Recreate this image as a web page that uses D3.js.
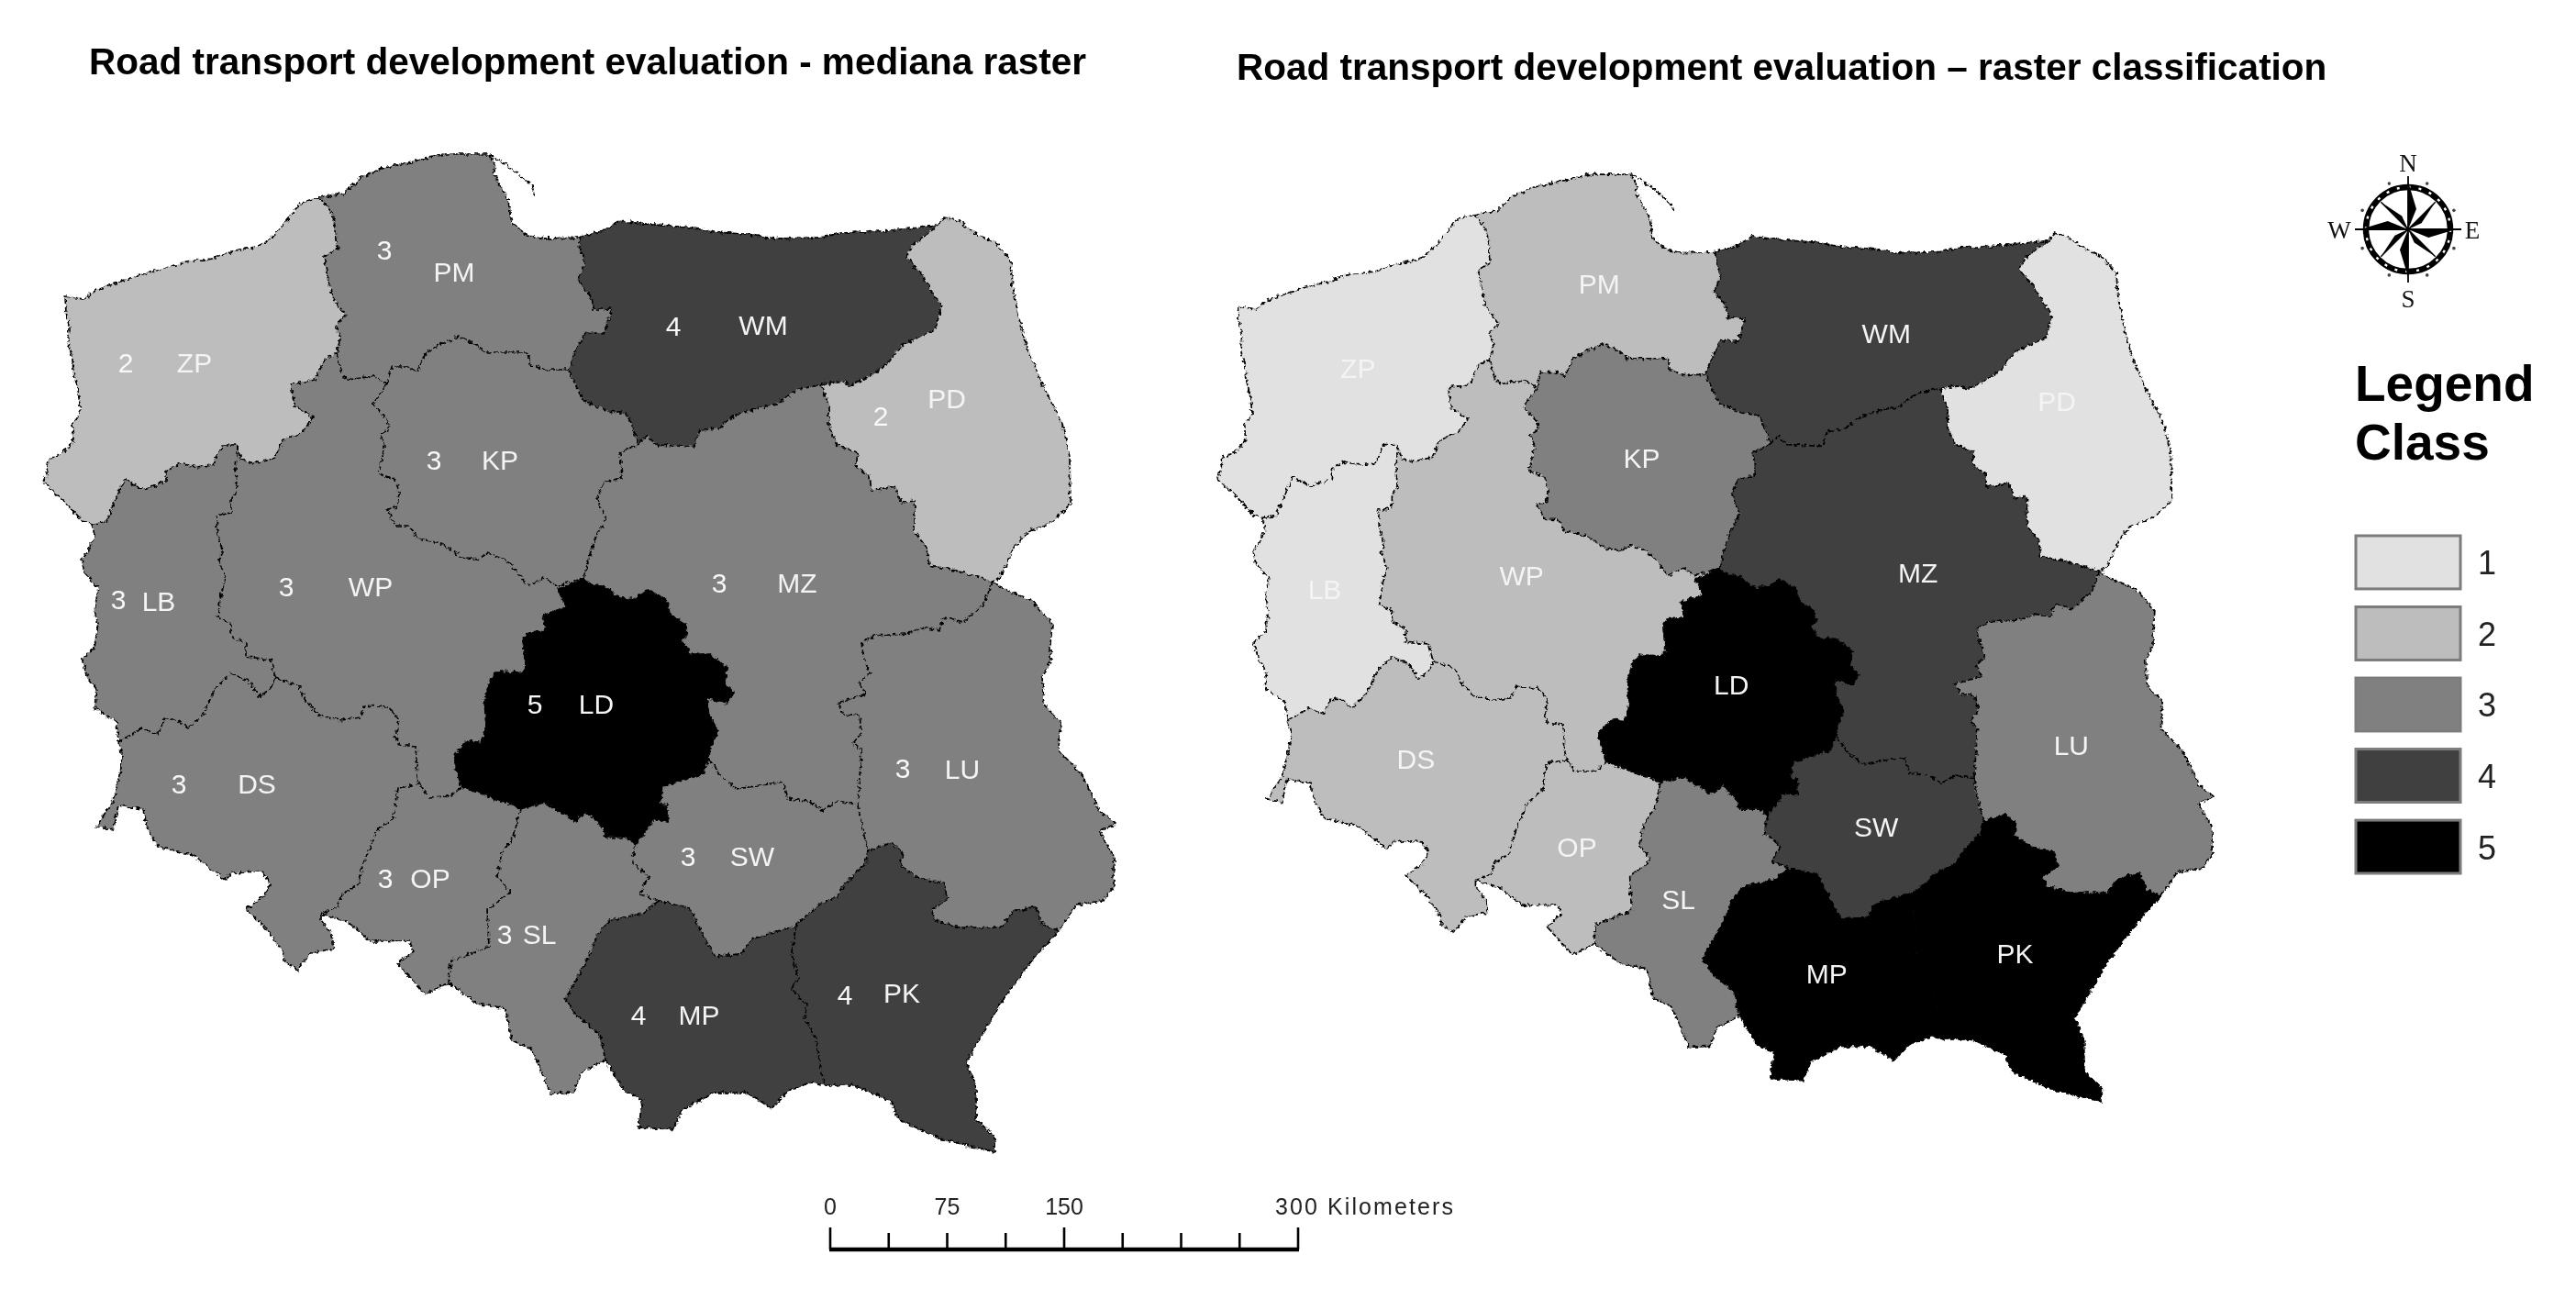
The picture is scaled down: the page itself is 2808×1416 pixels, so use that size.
<!DOCTYPE html>
<html><head><meta charset="utf-8">
<script src="https://cdn.jsdelivr.net/npm/d3@7"></script>
<style>html,body{margin:0;padding:0;background:#fff}svg{display:block;filter:blur(0.6px)}text{font-family:"Liberation Sans",Arial,sans-serif}</style>
</head><body><svg id="c" width="2808" height="1416"></svg>
<script>
// ---------- border arcs (map units) ----------
const coastZP=[[348,215],[328,221],[315,237],[304,251],[290,264],[279,269],[257,273],[232,282],[203,285],[179,293],[152,300],[125,309],[105,316],[92,326],[71,323],[72,341],[76,359],[74,373],[79,391],[80,405],[85,426],[88,448],[79,462],[80,482],[67,494],[53,501],[51,516],[47,525],[60,537],[74,551],[89,568],[100,571]];
const lbZP=[[100,571],[116,569],[123,551],[129,537],[136,523],[156,534],[181,525],[181,514],[196,505],[214,509],[232,507],[243,485],[259,485]];
const zpWP=[[259,485],[263,501],[277,505],[299,500],[308,480],[330,471],[341,455],[321,442],[317,419],[344,414],[353,392],[367,385]];
const zpPM=[[348,215],[362,232],[366,251],[368,271],[353,280],[357,301],[362,323],[377,344],[366,355],[371,366],[367,385]];
const coastPM=[[348,215],[375,211],[393,194],[415,184],[451,176],[484,168],[533,168],[540,182],[538,189],[554,219],[558,244],[576,257],[594,260],[631,259]];
const hel=[[533,168],[558,184],[580,203],[583,214]];
const pmWM=[[631,259],[633,273],[638,287],[630,305],[645,325],[647,337],[667,337],[658,364],[638,362],[627,384],[620,403]];
const pmWP=[[367,385],[373,409],[379,414],[408,410],[422,419]];
const kpPM=[[422,419],[426,400],[446,400],[455,405],[464,385],[478,376],[500,367],[520,376],[527,384],[554,384],[576,384],[578,398],[594,403],[620,403]];
const wpKP=[[422,419],[406,441],[422,457],[424,468],[415,473],[419,487],[413,516],[431,523],[435,537],[433,553],[422,555],[431,573],[446,573],[455,587],[480,592],[502,607],[520,610],[531,603],[551,610],[562,621],[576,639],[594,630],[607,639],[636,630]];
const kpMZ=[[636,630],[647,591],[660,566],[651,544],[658,525],[678,521],[676,494],[696,484]];
const kpWM=[[696,484],[683,451],[663,448],[636,437],[627,419],[620,403]];
const wmCoast=[[631,259],[658,251],[674,241],[712,245],[752,248],[779,253],[810,255],[846,260],[895,259],[917,254],[962,252],[993,249],[1022,246]];
const wmMZ=[[696,484],[705,475],[716,485],[756,487],[763,469],[783,467],[801,453],[828,444],[846,441],[868,425],[895,419]];
const wmPD=[[895,419],[921,416],[926,421],[944,412],[966,398],[984,376],[1020,359],[1026,334],[1004,298],[988,280],[995,267],[1022,246]];
const pdEast=[[1022,246],[1029,237],[1046,241],[1060,253],[1084,264],[1102,284],[1104,312],[1111,348],[1120,380],[1136,419],[1158,462],[1166,498],[1167,550],[1147,569],[1120,580],[1107,594],[1090,630],[1082,634]];
const pdMZ=[[895,419],[904,444],[904,466],[913,485],[935,494],[933,509],[948,519],[950,535],[975,530],[982,548],[997,546],[997,580],[1011,598],[1013,616],[1046,623],[1082,634]];
const mzLU=[[1082,634],[1073,657],[1060,669],[1051,678],[1029,673],[1024,687],[1006,684],[988,691],[953,693],[939,701],[942,718],[948,734],[937,745],[944,757],[913,766],[919,778],[937,780],[939,799],[930,810],[939,818],[935,877]];
const mzSW=[[773,827],[785,845],[803,860],[854,852],[859,871],[881,873],[897,883],[913,873],[935,877]];
const ldMZ=[[636,630],[643,637],[660,640],[677,653],[693,652],[707,643],[727,655],[730,670],[747,680],[750,692],[743,698],[753,713],[773,713],[792,727],[790,745],[800,755],[792,767],[770,760],[773,780],[783,797],[775,813],[773,827]];
const ldSW=[[773,827],[767,843],[747,850],[723,857],[720,877],[728,877],[728,897],[713,893],[703,907],[693,920]];
const ldSL=[[693,920],[683,913],[660,913],[657,903],[640,885],[627,895],[607,883],[593,875],[567,882]];
const ldOP=[[567,882],[557,877],[543,873],[530,867],[503,858]];
const ldWP=[[503,858],[497,837],[495,823],[510,807],[525,810],[530,793],[528,763],[535,740],[542,732],[568,733],[573,727],[570,697],[575,690],[595,688],[592,670],[617,662],[608,642],[620,638],[636,630]];
const wpOP=[[458,855],[467,869],[491,868],[503,858]];
const dsWP=[[300,739],[326,748],[333,764],[348,780],[371,785],[393,782],[397,769],[424,771],[435,785],[431,803],[435,812],[453,814],[455,848],[458,855]];
const dsOP=[[458,855],[433,859],[429,891],[411,905],[395,944],[391,964],[373,975],[368,989],[350,996]];
const opSL=[[567,882],[560,912],[547,930],[542,955],[556,973],[531,991],[533,1032],[491,1048],[489,1071]];
const opSouth=[[350,996],[379,1005],[404,1026],[446,1025],[451,1037],[433,1050],[464,1084],[489,1071]];
const dsSouth=[[129,809],[134,826],[127,859],[121,878],[105,901],[123,905],[129,878],[156,882],[161,903],[172,923],[210,932],[228,946],[246,959],[254,951],[286,950],[295,964],[286,978],[268,991],[290,1012],[308,1037],[310,1048],[324,1057],[339,1039],[364,1034],[362,1019],[350,1003],[350,996]];
const lbWest=[[100,571],[103,584],[98,598],[89,609],[92,625],[107,641],[103,666],[107,680],[103,705],[89,718],[96,739],[105,751],[103,771],[127,787],[129,809]];
const lbDS=[[129,809],[154,794],[172,801],[179,784],[192,784],[205,794],[223,776],[234,751],[252,734],[272,743],[283,760],[295,750],[300,739]];
const lbWP=[[259,485],[257,509],[258,534],[252,544],[252,559],[236,562],[237,584],[243,601],[239,612],[246,630],[241,648],[237,673],[252,680],[252,694],[268,701],[268,716],[295,719],[300,739]];
const slSouth=[[489,1071],[520,1094],[551,1100],[558,1134],[580,1144],[600,1192],[625,1191],[634,1169],[660,1155]];
const slMP=[[718,982],[700,996],[665,1003],[651,1019],[645,1036],[631,1063],[616,1089],[627,1105],[654,1128],[660,1155]];
const slSW=[[693,920],[689,940],[707,956],[698,975],[718,982]];
const swMP=[[868,1009],[841,1017],[819,1024],[808,1040],[779,1042],[767,1021],[752,990],[718,982]];
const swPK=[[946,927],[944,940],[921,963],[913,977],[890,988],[868,1009]];
const swLU=[[935,877],[939,898],[946,927]];
const luPK=[[1154,1015],[1136,1007],[1129,988],[1104,994],[1091,1011],[1046,1011],[1020,1003],[1015,992],[1033,980],[1029,963],[1002,957],[982,944],[984,929],[971,919],[946,927]];
const luEast=[[1082,634],[1090,640],[1125,655],[1147,680],[1145,703],[1145,722],[1136,737],[1138,768],[1156,787],[1154,818],[1180,845],[1198,883],[1216,898],[1198,906],[1214,933],[1214,967],[1203,982],[1174,986],[1154,1015]];
const mpSouth=[[660,1155],[680,1189],[700,1199],[696,1229],[734,1231],[743,1210],[779,1191],[814,1191],[841,1208],[859,1189],[886,1179],[899,1183]];
const mpPK=[[868,1009],[863,1036],[870,1067],[863,1078],[879,1095],[877,1112],[890,1132],[892,1155],[899,1183]];
const pkSouth=[[899,1183],[930,1183],[971,1200],[979,1220],[1024,1241],[1060,1250],[1084,1256],[1084,1239],[1064,1220],[1064,1185],[1053,1158],[1091,1093],[1127,1044],[1154,1015]];
const allArcs=[coastZP,lbZP,zpWP,zpPM,coastPM,hel,pmWM,pmWP,kpPM,wpKP,kpMZ,kpWM,wmCoast,wmMZ,wmPD,pdEast,pdMZ,mzLU,mzSW,ldMZ,ldSW,ldSL,ldOP,ldWP,wpOP,dsWP,dsOP,opSL,opSouth,dsSouth,lbWest,lbDS,lbWP,slSouth,slMP,slSW,swMP,swPK,swLU,luPK,luEast,mpSouth,mpPK,pkSouth];
const rev=a=>a.slice().reverse();
// ---------- regions ----------
const regionCodes=["ZP","PM","WM","PD","KP","WP","LB","MZ","LD","DS","OP","SL","SW","LU","MP","PK"];
const regionRings=[
 [coastZP,lbZP,zpWP,rev(zpPM)],
 [coastPM,pmWM,rev(kpPM),rev(pmWP),rev(zpPM)],
 [wmCoast,rev(wmPD),rev(wmMZ),kpWM,rev(pmWM)],
 [wmPD,pdEast,rev(pdMZ)],
 [kpPM,rev(kpWM),rev(kpMZ),rev(wpKP)],
 [zpWP,pmWP,wpKP,rev(ldWP),rev(wpOP),rev(dsWP),rev(lbWP)],
 [rev(lbZP),lbWest,lbDS,rev(lbWP)],
 [kpMZ,wmMZ,pdMZ,mzLU,rev(mzSW),rev(ldMZ)],
 [ldMZ,ldSW,ldSL,ldOP,ldWP],
 [lbDS,dsWP,dsOP,rev(dsSouth)],
 [wpOP,rev(ldOP),opSL,rev(opSouth),rev(dsOP)],
 [rev(ldSL),slSW,slMP,rev(slSouth),rev(opSL)],
 [mzSW,swLU,swPK,swMP,rev(slSW),rev(ldSW)],
 [rev(mzLU),luEast,luPK,rev(swLU)],
 [rev(swMP),mpPK,rev(mpSouth),rev(slMP)],
 [rev(swPK),rev(luPK),rev(pkSouth),rev(mpPK)]
];
const classMediana=[2,3,4,2,3,3,3,3,5,3,3,3,3,3,4,4];
const classRaster =[1,2,4,1,3,2,1,4,5,2,2,3,4,3,5,5];
const codeX=[212,495,832,1032,545,404,173,869,650,280,469,588,820,1049,762,983];
const codeY=[395,296,354,434,501,639,655,635,767,854,957,1018,933,838,1106,1082];
const valueX=[137,419,734,960,473,312,129,784,583,195,420,550,750,984,696,921];
const valueY=[395,272,355,453,501,639,653,635,767,854,957,1018,933,837,1106,1084];
// ---------- legend, scale bar, compass ----------
const classes=[1,2,3,4,5];
const classColors=["#e1e1e1","#bdbdbd","#808080","#404040","#000000"];
const titleLeft="Road transport development evaluation - mediana raster";
const titleRight="Road transport development evaluation \u2013 raster classification";
const scaleTicks=[0,37.5,75,112.5,150,187.5,225,262.5,300];
const scaleMajor=[0,150,300];
const scaleLabels=[0,75,150,300];
const compassMain=[0,90,180,270];
const compassDiag=[45,135,225,315];
const compassDots=[22.5,67.5,112.5,157.5,202.5,247.5,292.5,337.5];

const svg=d3.select("#c");
const defs=svg.append("defs");
const rough=defs.append("filter").attr("id","rough").attr("filterUnits","userSpaceOnUse")
  .attr("x",0).attr("y",0).attr("width",2808).attr("height",1416);
rough.append("feTurbulence").attr("type","fractalNoise").attr("baseFrequency",0.22).attr("numOctaves",2).attr("seed",4).attr("result","n");
rough.append("feDisplacementMap").attr("in","SourceGraphic").attr("in2","n").attr("scale",6).attr("xChannelSelector","R").attr("yChannelSelector","G");

const color=d3.scaleOrdinal(classes,classColors);
function drawMap(offX,k,offY,cls,showValues){
  const x=d3.scaleLinear().domain([0,2808]).range([offX,offX+2808*k]);
  const y=d3.scaleLinear().domain([0,1416]).range([offY,offY+1416*k]);
  const line=d3.line().x(d=>x(d[0])).y(d=>y(d[1]));
  const g=svg.append("g");
  const shapes=g.append("g").attr("filter","url(#rough)");
  shapes.selectAll("path.r").data(regionRings).join("path").attr("class","r")
    .attr("d",d=>line(d.flat())+"Z").attr("fill",(d,i)=>color(cls[i]))
    .attr("stroke",(d,i)=>color(cls[i])).attr("stroke-width",0.8);
  shapes.selectAll("path.b").data(allArcs).join("path").attr("class","b")
    .attr("d",line).attr("fill","none").attr("stroke","#000").attr("stroke-width",1.7)
    .attr("stroke-dasharray","6 2.2").attr("stroke-linejoin","round");
  g.selectAll("text.c").data(regionCodes).join("text").attr("class","c")
    .attr("x",(d,i)=>x(codeX[i])).attr("y",(d,i)=>y(codeY[i])).attr("dy","0.36em")
    .attr("text-anchor","middle").attr("font-size",30).attr("fill","#f4f4f4").text(d=>d);
  if(showValues) g.selectAll("text.v").data(cls).join("text").attr("class","v")
    .attr("x",(d,i)=>x(valueX[i])).attr("y",(d,i)=>y(valueY[i])).attr("dy","0.36em")
    .attr("text-anchor","middle").attr("font-size",30).attr("fill","#f8f8f8").text(d=>d);
}
drawMap(0,1,0,classMediana,true);
drawMap(1283.3,0.929,34,classRaster,false);

svg.append("text").attr("x",97).attr("y",81).attr("font-size",40.5).attr("font-weight",700).attr("fill","#000").text(titleLeft);
svg.append("text").attr("x",1348).attr("y",87).attr("font-size",40.5).attr("font-weight",700).attr("fill","#000").text(titleRight);

// scale bar
const sx=d3.scaleLinear().domain([0,300]).range([905,1415]);
const barY=1362;
const sb=svg.append("g");
sb.append("line").attr("x1",sx(0)-1).attr("x2",sx(300)+1).attr("y1",barY).attr("y2",barY).attr("stroke","#000").attr("stroke-width",4.5);
sb.selectAll("line.t").data(scaleTicks).join("line").attr("class","t")
  .attr("x1",d=>sx(d)).attr("x2",d=>sx(d)).attr("y1",barY)
  .attr("y2",d=>barY-(scaleMajor.includes(d)?24:18)).attr("stroke","#000").attr("stroke-width",2.6);
const sl=sb.selectAll("text").data(scaleLabels).join("text")
  .attr("x",d=>sx(d)).attr("y",1324).attr("text-anchor",d=>d===300?"start":"middle")
  .attr("dx",d=>d===300?-25:0).attr("font-size",25).attr("fill","#222")
  .text(d=>d===300?"300 Kilometers":d);
sl.filter(d=>d===300).attr("textLength",194).attr("lengthAdjust","spacing");

// legend
const lg=svg.append("g");
const ly=d3.scaleBand().domain(classes).range([584,953]).paddingInner(0.24).paddingOuter(0);
lg.append("text").attr("x",2567).attr("y",437).attr("font-size",55).attr("font-weight",700).attr("fill","#000").text("Legend");
lg.append("text").attr("x",2567).attr("y",501).attr("font-size",55).attr("font-weight",700).attr("fill","#000").text("Class");
lg.selectAll("rect").data(classes).join("rect")
  .attr("x",2568).attr("width",114).attr("y",d=>ly(d)).attr("height",ly.bandwidth()-1)
  .attr("fill",d=>color(d)).attr("stroke","#7c7c7c").attr("stroke-width",3);
lg.selectAll("text.l").data(classes).join("text").attr("class","l")
  .attr("x",2711).attr("y",d=>ly(d)+ly.bandwidth()/2).attr("dy","0.36em").attr("text-anchor","middle")
  .attr("font-size",36).attr("fill","#222").text(d=>d);

// compass
const cx=2625,cy=250;
const cg=svg.append("g").attr("transform",`translate(${cx},${cy})`);
const polar=(deg,r)=>[r*Math.sin(deg*Math.PI/180),-r*Math.cos(deg*Math.PI/180)];
const ln=d3.line();
cg.append("circle").attr("r",46).attr("fill","none").attr("stroke","#000").attr("stroke-width",6.5);
cg.append("circle").attr("r",46).attr("fill","none").attr("stroke","#fff").attr("stroke-width",2.4).attr("stroke-dasharray","3 9");
cg.selectAll("path.m").data(compassMain).join("path").attr("class","m")
  .attr("d",d=>ln([polar(d,0),polar(d,52),polar(d+22,24)])+"Z").attr("fill","#000");
cg.selectAll("path.d").data(compassDiag).join("path").attr("class","d")
  .attr("d",d=>ln([polar(d,0),polar(d,42),polar(d+20,16)])+"Z").attr("fill","#000");
cg.selectAll("line.m").data(compassMain).join("line").attr("class","m")
  .attr("x2",d=>polar(d,58)[0]).attr("y2",d=>polar(d,58)[1]).attr("stroke","#000").attr("stroke-width",1.8);
cg.selectAll("line.d").data(compassDiag).join("line").attr("class","d")
  .attr("x2",d=>polar(d,42)[0]).attr("y2",d=>polar(d,42)[1]).attr("stroke","#000").attr("stroke-width",1.4);
cg.selectAll("circle.o").data(compassDots).join("circle").attr("class","o")
  .attr("cx",d=>polar(d,54)[0]).attr("cy",d=>polar(d,54)[1]).attr("r",1.8).attr("fill","#444");
const compassLetters=["N","E","S","W"];
const compassLetterR=[73,70,75,75];
cg.selectAll("text").data(compassLetters).join("text")
  .attr("x",(d,i)=>polar(compassMain[i],compassLetterR[i])[0]).attr("y",(d,i)=>polar(compassMain[i],compassLetterR[i])[1])
  .attr("dy","0.36em").attr("text-anchor","middle").attr("font-size",27)
  .style("font-family","'Liberation Serif',serif").attr("fill","#111").text(d=>d);
</script></body></html>
